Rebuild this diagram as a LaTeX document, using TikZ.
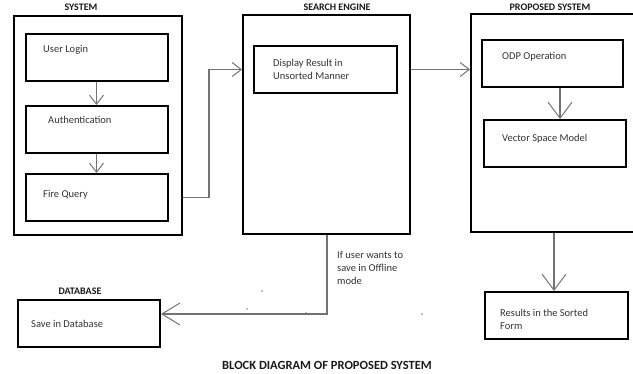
\documentclass[tikz,border=0pt]{standalone}
\usepackage{fontspec}
\setmainfont{Carlito}
\usetikzlibrary{arrows.meta,calc}

\begin{document}
\begin{tikzpicture}[x=1pt,y=-1pt,
  frame/.style={draw=black, line width=2pt, anchor=north west, inner sep=0pt},
  body/.style={anchor=west, inner sep=0pt, text=black!80, align=left,
    font=\fontsize{10.5}{13}\selectfont},
  heading/.style={inner sep=0pt, text=black!90, font=\fontsize{10}{12}\bfseries\selectfont},
  link/.style={draw=black!55, line width=1.1pt},
  tipA/.style={-{Straight Barb[length=9pt,width=14pt,line width=1pt]}},
  tipB/.style={-{Straight Barb[length=16pt,width=24pt,line width=1pt]}},
  tipC/.style={-{Straight Barb[length=18pt,width=22pt,line width=1pt]}},
]
\useasboundingbox (0,0) rectangle (633,374);
\clip (0,0) rectangle (633,374);

% --- SYSTEM ---
\node[heading] (sysT) at (81,7) {SYSTEM};
\node[frame, minimum width=168pt, minimum height=219pt] (sys) at (13,15) {};
\node[frame, minimum width=142pt, minimum height=47pt] (login) at (25,33) {};
\node[frame, minimum width=142pt, minimum height=47pt] (auth) at (25,105) {};
\node[frame, minimum width=142pt, minimum height=47pt] (fire) at (25,173) {};
\node[body] (loginT) at (43,50) {User Login};
\node[body] (authT) at (48,120) {Authentication};
\node[body] (fireT) at (43,195) {Fire Query};

% --- SEARCH ENGINE ---
\node[heading] (seT) at (337,7) {SEARCH ENGINE};
\node[frame, minimum width=167pt, minimum height=219pt] (search) at (242,14) {};
\node[frame, minimum width=143pt, minimum height=47pt] (display) at (253,45) {};
\node[body] (displayT) at (273,69.5) {Display Result in\\Unsorted Manner};

% --- PROPOSED SYSTEM (runs past the right edge) ---
\node[heading] (propT) at (550,7) {PROPOSED SYSTEM};
\node[frame, minimum width=190pt, minimum height=218pt] (prop) at (470,13) {};
\node[frame, minimum width=141pt, minimum height=47pt] (odp) at (481,39) {};
\node[frame, minimum width=142pt, minimum height=47pt] (vsm) at (483,119) {};
\node[body] (odpT) at (502,57) {ODP Operation};
\node[body] (vsmT) at (502,139) {Vector Space Model};

% --- results ---
\node[frame, minimum width=143pt, minimum height=47pt] (res) at (484,291) {};
\node[body] (resT) at (500,319) {Results in the Sorted\\Form};

% --- DATABASE ---
\node[heading] (dbT) at (80,291) {DATABASE};
\node[frame, minimum width=142pt, minimum height=47pt] (db) at (17,299) {};
\node[body] (dbTxt) at (31,324) {Save in Database};

% --- offline note and caption ---
\node[body, anchor=north west] (note) at (337,251) {If user wants to\\save in Offline\\mode};
\node[inner sep=0pt, text=black!90, font=\fontsize{12.5}{14}\bfseries\selectfont] (cap) at (327,365)
  {BLOCK DIAGRAM OF PROPOSED SYSTEM};

% --- connectors ---
\coordinate (bend) at (209,0);
\coordinate (odpX) at (560,0);
\coordinate (propX) at (554,0);
\coordinate (seX) at (327,0);
\coordinate (dbY) at (0,314);

\draw[link, tipA] ($(login.south)+(-0.5,0)$) -- ($(auth.north)+(-0.5,0)$);
\draw[link, tipA] ($(auth.south)+(-0.5,0)$) -- ($(fire.north)+(-0.5,0)$);
\draw[link, tipA] (fire.center -| sys.east) -- (fire.center -| bend) |- (display.center -| search.west);
\draw[link, tipA] (display.center -| search.east) -- (display.center -| prop.west);
\draw[link, tipB] (odp.south -| odpX) -- (vsm.north -| odpX);
\draw[link, tipB] (prop.south -| propX) -- (res.north -| propX);
\draw[link, tipC] (search.south -| seX) -- (seX |- dbY) -- (db.east |- dbY);

% stray specks
\fill[black!50] (262,291) circle (0.8) (247,309) circle (0.8) (306,313) circle (0.8) (422,314) circle (0.8);
\end{tikzpicture}
\end{document}
